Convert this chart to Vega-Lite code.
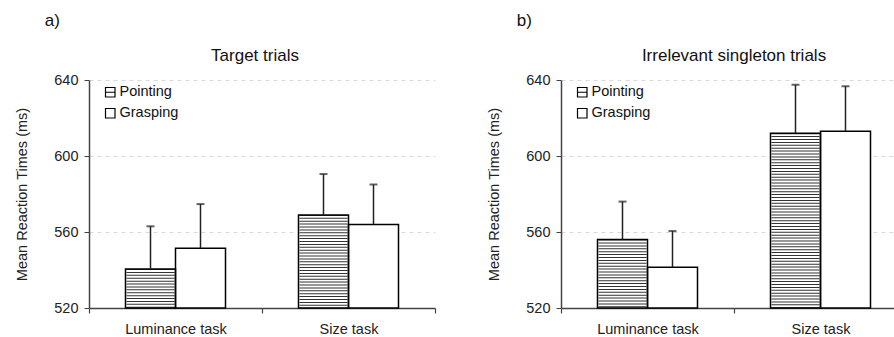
{
  "$schema": "https://vega.github.io/schema/vega-lite/v6.json",
  "padding": {"left": 14, "top": 12, "right": 0, "bottom": 0},
  "background": "white",
  "config": {
    "font": "Liberation Sans",
    "view": {"stroke": null},
    "concat": {"spacing": 50},
    "axis": {"labelFont": "Liberation Sans", "titleFont": "Liberation Sans", "labelColor": "#222", "titleColor": "#222"}
  },
  "data": {"values": [
    {"panel": "a", "task": "Luminance task", "group": "Pointing", "rt": 540.5, "upper": 563},
    {"panel": "a", "task": "Luminance task", "group": "Grasping", "rt": 551.5, "upper": 574.7},
    {"panel": "a", "task": "Size task", "group": "Pointing", "rt": 569, "upper": 590.5},
    {"panel": "a", "task": "Size task", "group": "Grasping", "rt": 564, "upper": 585},
    {"panel": "b", "task": "Luminance task", "group": "Pointing", "rt": 556, "upper": 576},
    {"panel": "b", "task": "Luminance task", "group": "Grasping", "rt": 541.5, "upper": 560.5},
    {"panel": "b", "task": "Size task", "group": "Pointing", "rt": 612, "upper": 637.5},
    {"panel": "b", "task": "Size task", "group": "Grasping", "rt": 613, "upper": 636.7}
  ]},
  "hconcat": [
    {
      "title": {"text": "a)", "anchor": "start", "dx": 30, "fontSize": 17, "fontWeight": "normal", "offset": 17, "color": "#111"},
      "vconcat": [
        {
          "title": {"text": "Target trials", "fontSize": 17, "fontWeight": "normal", "offset": 7, "frame": "group", "dx": -7, "color": "#111"},
          "width": 346,
          "height": 228,
          "transform": [{"filter": "datum.panel === 'a'"}],
          "encoding": {
            "x": {"field": "task", "type": "nominal", "scale": {"paddingInner": 0, "paddingOuter": 0},
                  "axis": {"title": null, "labelAngle": 0, "labelFontSize": 14.5, "tickBand": "extent", "tickSize": 5, "labelPadding": 9, "domainColor": "#444", "tickColor": "#444", "domainWidth": 1.5, "tickWidth": 1.2}},
            "xOffset": {"field": "group", "type": "nominal", "scale": {"domain": ["Pointing", "Grasping"], "paddingOuter": 0.73, "paddingInner": 0}}
          },
          "layer": [
            {
              "mark": {"type": "bar", "strokeWidth": 0},
              "encoding": {
                "y": {"field": "rt", "type": "quantitative", "scale": {"domain": [520, 640], "nice": false, "zero": false},
                      "axis": {"title": "Mean Reaction Times (ms)", "values": [520, 560, 600, 640], "grid": true, "gridDash": [4, 4], "gridColor": "#d9d9d9", "domainColor": "#444", "tickColor": "#444", "domainWidth": 1.5, "tickSize": 5, "labelFontSize": 14.5, "titleFontSize": 14.5, "titleFontWeight": "normal", "titlePadding": 24, "labelPadding": 6}},
                "y2": {"datum": 520},
                "fill": {"field": "group", "type": "nominal", "scale": {"domain": ["Pointing", "Grasping"], "range": ["white", "white"]},
                         "legend": {"title": null, "orient": "none", "legendX": 14, "legendY": 5, "labelFontSize": 14.5, "labelColor": "#111", "symbolSize": 90, "rowPadding": 5, "labelOffset": 2, "symbolStrokeColor": "black", "symbolStrokeWidth": 1.2,
                                    "encode": {"symbols": {"update": {"shape": {"signal": "datum.value === 'Pointing' ? 'M-1,-1H1V1H-1ZM-1,0H1' : 'square'"}, "stroke": {"value": "black"}, "strokeWidth": {"value": 1.2}, "fill": {"value": "white"}, "opacity": {"value": 1}}}}}}
              }
            },
            {
              "transform": [{"filter": "datum.group === 'Pointing'"}],
              "mark": {"type": "rule", "strokeWidth": 48, "strokeDash": [1, 1.9], "strokeCap": "butt", "color": "#333"},
              "encoding": {"y": {"field": "rt", "type": "quantitative"}, "y2": {"datum": 520}}
            },
            {
              "mark": {"type": "bar", "fillOpacity": 0, "stroke": "black", "strokeWidth": 1.5},
              "encoding": {"y": {"field": "rt", "type": "quantitative"}, "y2": {"datum": 520}}
            },
            {
              "mark": {"type": "rule", "strokeWidth": 1.5, "color": "#222"},
              "encoding": {"y": {"field": "rt", "type": "quantitative"}, "y2": {"field": "upper"}}
            },
            {
              "mark": {"type": "tick", "size": 8, "thickness": 2, "color": "#222", "orient": "horizontal"},
              "encoding": {"y": {"field": "upper", "type": "quantitative"}}
            }
          ]
        }
      ]
    },
    {
      "title": {"text": "b)", "anchor": "start", "dx": 30, "fontSize": 17, "fontWeight": "normal", "offset": 17, "color": "#111"},
      "vconcat": [
        {
          "title": {"text": "Irrelevant singleton trials", "fontSize": 17, "fontWeight": "normal", "offset": 7, "frame": "group", "color": "#111"},
          "width": 346,
          "height": 228,
          "transform": [{"filter": "datum.panel === 'b'"}],
          "encoding": {
            "x": {"field": "task", "type": "nominal", "scale": {"paddingInner": 0, "paddingOuter": 0},
                  "axis": {"title": null, "labelAngle": 0, "labelFontSize": 14.5, "tickBand": "extent", "tickSize": 5, "labelPadding": 9, "domainColor": "#444", "tickColor": "#444", "domainWidth": 1.5, "tickWidth": 1.2}},
            "xOffset": {"field": "group", "type": "nominal", "scale": {"domain": ["Pointing", "Grasping"], "paddingOuter": 0.73, "paddingInner": 0}}
          },
          "layer": [
            {
              "mark": {"type": "bar", "strokeWidth": 0},
              "encoding": {
                "y": {"field": "rt", "type": "quantitative", "scale": {"domain": [520, 640], "nice": false, "zero": false},
                      "axis": {"title": "Mean Reaction Times (ms)", "values": [520, 560, 600, 640], "grid": true, "gridDash": [4, 4], "gridColor": "#d9d9d9", "domainColor": "#444", "tickColor": "#444", "domainWidth": 1.5, "tickSize": 5, "labelFontSize": 14.5, "titleFontSize": 14.5, "titleFontWeight": "normal", "titlePadding": 24, "labelPadding": 6}},
                "y2": {"datum": 520},
                "fill": {"field": "group", "type": "nominal", "scale": {"domain": ["Pointing", "Grasping"], "range": ["white", "white"]},
                         "legend": {"title": null, "orient": "none", "legendX": 14, "legendY": 5, "labelFontSize": 14.5, "labelColor": "#111", "symbolSize": 90, "rowPadding": 5, "labelOffset": 2, "symbolStrokeColor": "black", "symbolStrokeWidth": 1.2,
                                    "encode": {"symbols": {"update": {"shape": {"signal": "datum.value === 'Pointing' ? 'M-1,-1H1V1H-1ZM-1,0H1' : 'square'"}, "stroke": {"value": "black"}, "strokeWidth": {"value": 1.2}, "fill": {"value": "white"}, "opacity": {"value": 1}}}}}}
              }
            },
            {
              "transform": [{"filter": "datum.group === 'Pointing'"}],
              "mark": {"type": "rule", "strokeWidth": 48, "strokeDash": [1, 1.9], "strokeCap": "butt", "color": "#333"},
              "encoding": {"y": {"field": "rt", "type": "quantitative"}, "y2": {"datum": 520}}
            },
            {
              "mark": {"type": "bar", "fillOpacity": 0, "stroke": "black", "strokeWidth": 1.5},
              "encoding": {"y": {"field": "rt", "type": "quantitative"}, "y2": {"datum": 520}}
            },
            {
              "mark": {"type": "rule", "strokeWidth": 1.5, "color": "#222"},
              "encoding": {"y": {"field": "rt", "type": "quantitative"}, "y2": {"field": "upper"}}
            },
            {
              "mark": {"type": "tick", "size": 8, "thickness": 2, "color": "#222", "orient": "horizontal"},
              "encoding": {"y": {"field": "upper", "type": "quantitative"}}
            }
          ]
        }
      ]
    }
  ],
  "resolve": {"scale": {"fill": "independent"}}
}
